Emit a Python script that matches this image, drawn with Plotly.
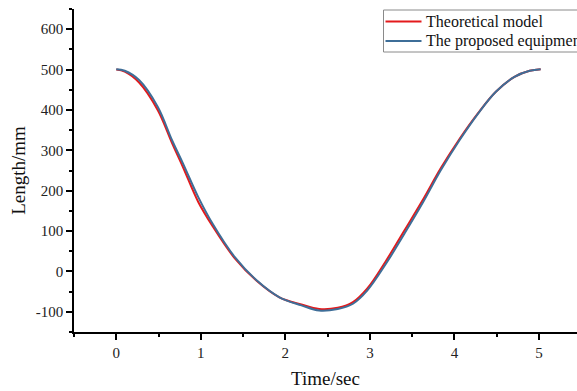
import plotly.graph_objects as go

time_s = [0.0, 0.10, 0.27, 0.49, 0.66, 0.79, 0.97, 1.14, 1.40, 1.66, 1.93, 2.19, 2.40,
          2.62, 2.80, 2.97, 3.19, 3.41, 3.62, 3.84, 4.06, 4.28, 4.49, 4.71, 4.89, 5.02]
theoretical = [500, 495, 468, 400, 318, 258, 172, 112, 33, -23, -64, -82, -93,
               -90, -76, -42, 26, 102, 175, 256, 328, 392, 445, 482, 497, 501]
proposed = [501, 497, 474, 408, 325, 267, 184, 118, 36, -22, -64, -84, -97,
            -93, -80, -47, 19, 94, 168, 251, 325, 391, 445, 482, 497, 501]

x_ticks = [0, 1, 2, 3, 4, 5]
y_ticks = [-100, 0, 100, 200, 300, 400, 500, 600]
y_tick_labels = ["-100", "0", "100", "200", "300", "400", "500", "600"]

series_names = ["Theoretical model", "The proposed equipment"]
series_colors = ["#e31a1c", "#3e6e98"]

fig = go.Figure()
fig.add_trace(go.Scatter(x=time_s, y=theoretical, mode="lines", name=series_names[0],
                         line=dict(color=series_colors[0], width=2, shape="spline")))
fig.add_trace(go.Scatter(x=time_s, y=proposed, mode="lines", name=series_names[1],
                         line=dict(color=series_colors[1], width=2, shape="spline")))

font_family = "Liberation Serif, Times New Roman, serif"
axis_common = dict(
    showline=True, linecolor="black", linewidth=1.5, showgrid=False, zeroline=False,
    ticks="outside", ticklen=6, tickwidth=1.5, tickcolor="black",
    tickfont=dict(family=font_family, size=15, color="#222"),
    title_font=dict(family=font_family, size=19, color="#111"),
)

# plot area in pixels: x 74..577, y 9..332
L, R, T, B = 74, 577, 9, 332
def px(xp):
    return (xp - L) / (R - L)
def py(yp):
    return (B - yp) / (B - T)

shapes = [
    dict(type="rect", xref="paper", yref="paper", x0=px(383.5), x1=px(620), y0=py(52), y1=py(10),
         line=dict(color="#8a8a8a", width=1), fillcolor="white", layer="above"),
]
annotations = []
for i, (nm, col) in enumerate(zip(series_names, series_colors)):
    yrow = [21.5, 41][i]
    shapes.append(dict(type="line", xref="paper", yref="paper", x0=px(385.5), x1=px(421.5),
                       y0=py(yrow), y1=py(yrow), line=dict(color=col, width=2), layer="above"))
    annotations.append(dict(text=nm, xref="paper", yref="paper", x=px(424), y=py(yrow),
                            xanchor="left", yanchor="middle", showarrow=False,
                            font=dict(family=font_family, size=16, color="#111")))

fig.update_layout(
    width=577, height=391,
    margin=dict(l=L, r=0, t=T, b=391 - B, autoexpand=False),
    paper_bgcolor="white", plot_bgcolor="white",
    font=dict(family=font_family, color="#111"),
    xaxis=dict(range=[-0.5, 5.45], tickvals=x_ticks,
               minor=dict(dtick=0.5, tick0=0, ticks="outside", ticklen=3, tickcolor="black", tickwidth=1.5),
               title=dict(text="Time/sec", standoff=12), **axis_common),
    yaxis=dict(range=[-150, 650], tickvals=y_ticks, ticktext=y_tick_labels,
               minor=dict(dtick=50, tick0=0, ticks="outside", ticklen=3, tickcolor="black", tickwidth=1.5),
               title=dict(text="Length/mm", standoff=5), **axis_common),
    shapes=shapes,
    annotations=annotations,
    showlegend=False,
)

fig.write_html("out.html", config={"displayModeBar": False},
               post_script="document.body.style.margin='0';document.body.style.padding='0';")
